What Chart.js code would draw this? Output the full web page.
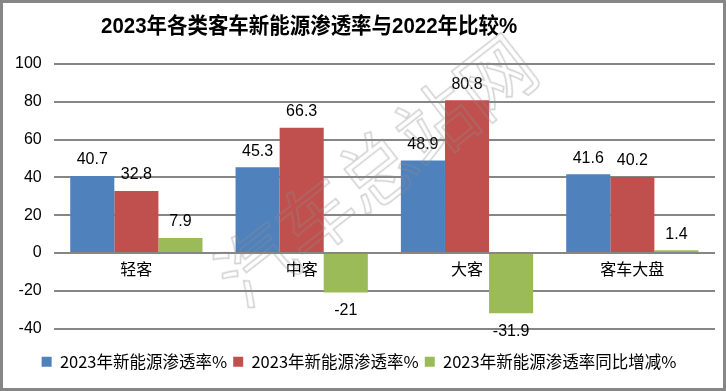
<!DOCTYPE html>
<html>
<head>
<meta charset="utf-8">
<script src="https://cdn.jsdelivr.net/npm/chart.js@4.4.1/dist/chart.umd.min.js"></script>
<style>
    body { margin: 0; background: #fff; }
    #wrap {
        position: relative;
        width: 726px;
        height: 391px;
        border: 3px solid #868686;
        box-sizing: border-box;
        overflow: hidden;
    }
    #title {
        position: absolute;
        left: 98px;
        top: 4px;
        font: bold 22px "Liberation Sans", "Noto Sans CJK SC", sans-serif;
        color: #000;
        transform: scaleX(0.93);
        transform-origin: left center;
        white-space: nowrap;
    }
    #mark {
        position: absolute;
        left: 180px;
        top: 124px;
        width: 380px;
        text-align: center;
        font: 76px "Noto Sans CJK SC", sans-serif;
        line-height: 80px;
        color: transparent;
        -webkit-text-stroke: 1.5px rgba(140,140,140,0.4);
        transform: rotate(-38deg);
        transform-origin: center center;
        white-space: nowrap;
        pointer-events: none;
    }
    canvas { position: absolute; left: 0; top: 0; }
</style>
</head>
<body>
<div id="wrap">
    <canvas id="chart" width="720" height="385"></canvas>
    <div id="title">2023年各类客车新能源渗透率与2022年比较%</div>
    <div id="mark">汽车总站网</div>
</div>
<script>
// 数据
const categories = ['轻客', '中客', '大客', '客车大盘'];
const seriesNames = ['2023年新能源渗透率%', '2023年新能源渗透率%', '2023年新能源渗透率同比增减%'];
const rate2023 = [40.7, 45.3, 48.9, 41.6];
const rate2022 = [32.8, 66.3, 80.8, 40.2];
const rateDiff = [7.9, -21, -31.9, 1.4];
const yTicks = [-40, -20, 0, 20, 40, 60, 80, 100];

const colors = ['#4F81BD', '#C0504D', '#9BBB59'];
const numFont = '"Liberation Sans", "Noto Sans", sans-serif';
const cjkFont = '"Noto Sans CJK SC", sans-serif';

// 柱顶数值标签
const valueLabels = {
    id: 'valueLabels',
    afterDatasetsDraw(chart) {
        const ctx = chart.ctx;
        ctx.save();
        ctx.font = '16px ' + numFont;
        ctx.fillStyle = '#000';
        ctx.textAlign = 'center';
        chart.data.datasets.forEach((ds, i) => {
            const meta = chart.getDatasetMeta(i);
            meta.data.forEach((bar, j) => {
                const v = ds.data[j];
                if (v >= 0) {
                    ctx.textBaseline = 'bottom';
                    ctx.fillText(String(v), bar.x, bar.y - 8);
                } else {
                    ctx.textBaseline = 'top';
                    ctx.fillText(String(v), bar.x, bar.y + 10);
                }
            });
        });
        ctx.restore();
    }
};

const ctx = document.getElementById('chart').getContext('2d');
new Chart(ctx, {
    type: 'bar',
    data: {
        labels: categories,
        datasets: [
            { label: seriesNames[0], data: rate2023, backgroundColor: colors[0] },
            { label: seriesNames[1], data: rate2022, backgroundColor: colors[1] },
            { label: seriesNames[2], data: rateDiff, backgroundColor: colors[2] }
        ]
    },
    options: {
        responsive: false,
        animation: false,
        layout: { padding: { top: 61, right: 8, left: 0, bottom: 8 } },
        datasets: {
            bar: { categoryPercentage: 0.8, barPercentage: 1.0 }
        },
        plugins: {
            title: { display: false },
            tooltip: { enabled: false },
            legend: {
                position: 'bottom',
                labels: {
                    boxWidth: 10,
                    boxHeight: 10,
                    padding: 6,
                    color: '#000',
                    font: { size: 16.5, family: cjkFont }
                }
            }
        },
        scales: {
            x: {
                position: { y: 0 },
                grid: { display: false, tickLength: 0 },
                border: { display: false },
                ticks: {
                    color: '#000',
                    padding: 6,
                    font: { size: 16, family: cjkFont }
                }
            },
            // 占位轴，为图例留出空白
            gap: {
                type: 'category',
                position: 'bottom',
                grid: { display: false },
                border: { display: false },
                ticks: { display: false },
                afterFit(axis) { axis.height = 19; }
            },
            y: {
                min: -40,
                max: 100,
                afterBuildTicks(axis) {
                    axis.ticks = yTicks.map(v => ({ value: v }));
                },
                grid: { color: '#868686', lineWidth: 2, drawTicks: false },
                border: { display: false },
                ticks: {
                    color: '#000',
                    padding: 12,
                    font: { size: 16, family: numFont }
                }
            }
        }
    },
    plugins: [valueLabels]
});
</script>
</body>
</html>
